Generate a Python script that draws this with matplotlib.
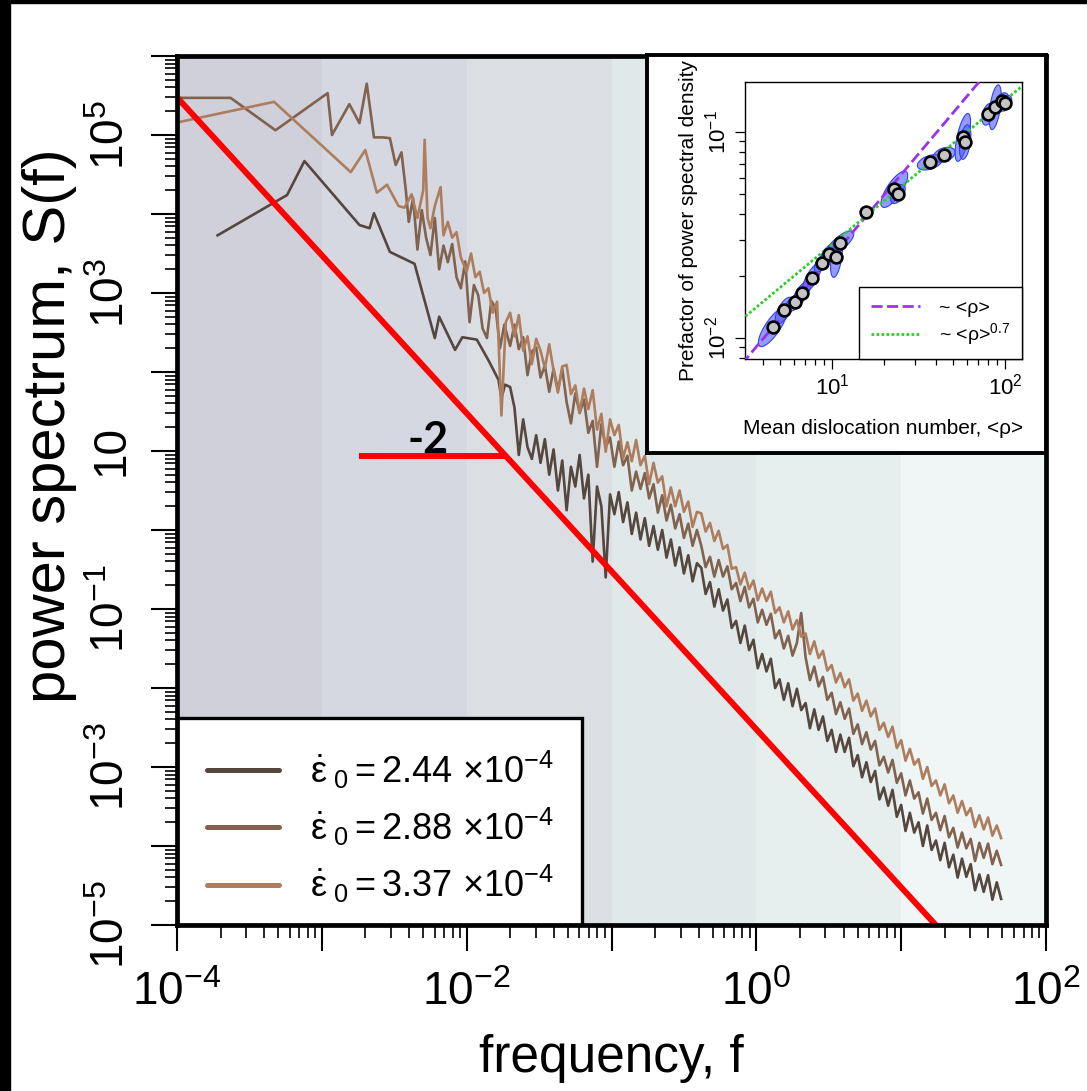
import numpy as np
import matplotlib
matplotlib.use("Agg")
import matplotlib.pyplot as plt
from matplotlib.ticker import FixedLocator, LogLocator, FuncFormatter, NullFormatter
from matplotlib.patches import Rectangle

plt.rcParams['font.family'] = ['Liberation Sans', 'DejaVu Sans']
plt.rcParams['mathtext.fontset'] = 'custom'
plt.rcParams['mathtext.rm'] = 'Liberation Sans'
plt.rcParams['mathtext.it'] = 'Liberation Sans'
plt.rcParams['mathtext.bf'] = 'Liberation Sans:bold'

# ---------------- spectra (log10 f, log10 S) ----------------
labels = [r'$\dot{\varepsilon}_{\ 0} = 2.44\ {\times}10^{-4}$',
          r'$\dot{\varepsilon}_{\ 0} = 2.88\ {\times}10^{-4}$',
          r'$\dot{\varepsilon}_{\ 0} = 3.37\ {\times}10^{-4}$']
colors = ['#55463e', '#80624e', '#ad7d5e']

# low-frequency part of each spectrum
dark_low_logf = [-3.72, -3.24, -3.12, -2.74, -2.67, -2.64, -2.53, -2.36, -2.22, -2.19,
                 -2.08, -2.03, -1.93, -1.85, -1.78, -1.76, -1.735]
dark_low_logS = [3.73, 4.24, 4.67, 3.86, 3.82, 4.01, 3.52, 3.37, 2.43, 2.70,
                 2.28, 2.44, 2.41, 2.15, 1.90, 1.67, 1.84]

mid_low_logf = [-4.02, -3.63, -3.32, -2.96, -2.93, -2.81, -2.74, -2.69, -2.64, -2.58,
                -2.53, -2.49, -2.45, -2.42, -2.40, -2.37, -2.34, -2.31, -2.28, -2.25,
                -2.22, -2.19, -2.16, -2.13, -2.10, -2.07, -2.04, -2.01, -1.98, -1.95,
                -1.92, -1.89, -1.86, -1.83, -1.80, -1.77, -1.74]
mid_low_logS = [5.47, 5.47, 5.06, 5.53, 5.00, 5.39, 5.15, 5.65, 4.97, 4.97,
                4.96, 4.62, 4.78, 4.30, 3.90, 4.20, 3.55, 4.05, 3.70, 3.48,
                3.95, 3.30, 3.60, 3.39, 3.62, 3.20, 3.06, 3.40, 2.63, 3.10,
                2.97, 2.55, 2.43, 2.90, 2.81, 2.30, 2.60]

light_low_logf = [-4.02, -3.33, -2.80, -2.70, -2.62, -2.55, -2.47, -2.43, -2.38, -2.34,
                  -2.30, -2.29, -2.27, -2.25, -2.22, -2.18, -2.16, -2.13, -2.10, -2.07,
                  -2.04, -2.00, -1.97, -1.94, -1.91, -1.88, -1.85, -1.82, -1.79, -1.76,
                  -1.73]
light_low_logS = [5.15, 5.42, 4.53, 4.81, 4.27, 4.37, 4.10, 4.08, 4.25, 3.95,
                  4.30, 4.94, 3.95, 3.82, 4.10, 4.34, 3.73, 3.90, 3.70, 3.77,
                  3.45, 3.27, 3.50, 3.20, 3.27, 3.00, 3.06, 2.75, 2.89, 1.45,
                  2.63]

# shared high-frequency grid
grid_logf = [-1.70, -1.67, -1.64, -1.61, -1.58, -1.55, -1.52, -1.49, -1.46, -1.43,
             -1.40, -1.37, -1.34, -1.31, -1.28, -1.25, -1.22, -1.19, -1.16, -1.13,
             -1.10, -1.07, -1.04, -1.01, -0.98, -0.95, -0.92, -0.89, -0.86, -0.83,
             -0.80, -0.77, -0.74, -0.71, -0.68, -0.65, -0.62, -0.59, -0.56, -0.53,
             -0.50, -0.47, -0.44, -0.41, -0.38, -0.35, -0.32, -0.29, -0.26, -0.23,
             -0.20, -0.17, -0.14, -0.11, -0.08, -0.05, -0.02, 0.01, 0.04, 0.07,
             0.10, 0.13, 0.16, 0.19, 0.22, 0.25, 0.28, 0.31, 0.34, 0.37,
             0.40, 0.43, 0.46, 0.49, 0.52, 0.55, 0.58, 0.61, 0.64, 0.67,
             0.70, 0.73, 0.76, 0.79, 0.82, 0.85, 0.88, 0.91, 0.94, 0.97,
             1.00, 1.03, 1.06, 1.09, 1.12, 1.15, 1.18, 1.21, 1.24, 1.27,
             1.30, 1.33, 1.36, 1.39, 1.42, 1.45, 1.48, 1.51, 1.54, 1.57,
             1.60, 1.63, 1.66, 1.69]

dark_logS = [1.81, 1.55, 0.95, 1.40, 1.05, 0.90, 1.20, 0.85, 1.15, 0.70,
             1.02, 0.50, 0.88, 0.25, 0.80, 0.55, 0.95, 0.40, 0.70, -0.40,
             0.55, 0.30, -0.60, 0.45, 0.20, 0.48, 0.10, 0.35, -0.05, 0.22,
             -0.12, 0.15, -0.20, 0.05, -0.25, 0.00, -0.35, -0.12, -0.45, -0.22,
             -0.55, -0.32, -0.65, -0.42, -0.48, -0.81, -0.66, -0.97, -0.75, -1.02,
             -0.88, -1.24, -1.15, -1.43, -1.21, -1.52, -1.39, -1.75, -1.57, -1.79,
             -1.63, -2.00, -1.89, -2.15, -1.94, -2.23, -2.01, -2.28, -2.19, -2.51,
             -2.27, -2.53, -2.36, -2.67, -2.53, -2.81, -2.59, -2.81, -2.63, -2.99,
             -2.85, -3.13, -2.94, -3.19, -3.05, -3.41, -3.26, -3.49, -3.29, -3.63,
             -3.48, -3.81, -3.58, -3.83, -3.70, -4.00, -3.74, -4.05, -3.93, -4.18,
             -3.96, -4.27, -4.11, -4.40, -4.16, -4.39, -4.23, -4.56, -4.36, -4.58,
             -4.37, -4.68, -4.46, -4.67]

mid_logS = [2.33, 2.60, 2.29, 2.44, 1.96, 2.26, 2.31, 1.93, 2.08, 1.75,
            2.04, 1.77, 2.04, 1.62, 1.35, 1.73, 1.48, 1.65, 1.23, 1.38,
            0.80, 1.34, 1.05, 1.17, 0.80, 1.12, 0.82, 0.94, 0.50, 0.74,
            0.52, 0.72, 0.40, 0.58, 0.22, 0.44, 0.12, 0.32, 0.02, 0.20,
            -0.10, 0.08, -0.20, 0.00, -0.20, -0.47, -0.34, -0.59, -0.38, -0.59,
            -0.46, -0.75, -0.67, -0.90, -0.72, -0.98, -0.87, -1.17, -1.01, -1.20,
            -1.06, -1.37, -1.27, -1.50, -1.34, -1.59, -1.43, -1.05, -1.61, -1.90,
            -1.73, -1.98, -1.86, -2.15, -2.06, -2.33, -2.18, -2.39, -2.26, -2.58,
            -2.46, -2.71, -2.56, -2.78, -2.67, -2.98, -2.87, -3.07, -2.91, -3.20,
            -3.08, -3.36, -3.17, -3.40, -3.32, -3.59, -3.40, -3.67, -3.58, -3.80,
            -3.62, -3.89, -3.77, -4.02, -3.83, -4.03, -3.91, -4.19, -3.96, -4.15,
            -3.97, -4.23, -4.06, -4.24]

light_logS = [2.75, 2.45, 2.72, 2.27, 2.45, 2.10, 2.42, 2.27, 2.05, 2.35,
              2.02, 1.74, 2.07, 2.09, 1.72, 1.83, 1.49, 1.79, 1.53, 1.77,
              1.27, 1.47, 0.99, 1.40, 1.20, 1.33, 0.91, 1.11, 0.87, 1.14,
              0.82, 0.94, 0.58, 0.85, 0.60, 0.68, 0.30, 0.54, 0.30, 0.50,
              0.23, 0.36, 0.04, 0.23, 0.21, -0.02, 0.09, -0.14, -0.01, -0.24,
              -0.19, -0.49, -0.47, -0.69, -0.54, -0.75, -0.64, -0.89, -0.74, -0.90,
              -0.78, -1.05, -0.98, -1.17, -1.03, -1.26, -1.14, -1.35, -1.31, -1.57,
              -1.41, -1.62, -1.53, -1.78, -1.71, -1.93, -1.81, -1.99, -1.89, -2.16,
              -2.07, -2.29, -2.16, -2.36, -2.26, -2.53, -2.44, -2.62, -2.49, -2.76,
              -2.66, -2.92, -2.77, -2.97, -2.90, -3.15, -3.00, -3.24, -3.17, -3.36,
              -3.22, -3.46, -3.36, -3.58, -3.43, -3.61, -3.52, -3.76, -3.61, -3.79,
              -3.64, -3.87, -3.74, -3.90]

# reference power law S ~ A f^-2 and the slope marker
ref_amp = 3.0e-3
ref_level = 8.7
ref_marker_f0 = 1.8e-3
slope_text_pos = (5.4e-3, 13.8)

# frequency decades shaded in the background
band_edges = [1e-4, 1e-3, 1e-2, 1e-1, 1e0, 1e1, 1e2]
band_colors = ['#cfd0da', '#d5d8e0', '#dbdfe3', '#e1e8e9', '#e6eeee', '#f0f6f6']

# ---------------- inset data ----------------
rho = [4.54, 5.28, 6.11, 6.68, 7.64, 8.72, 9.61, 10.6, 11.1, 15.7,
       22.9, 24.0, 36.8, 44.4, 56.9, 58.7, 79.4, 87.5, 95.7, 100.0]
prefactor = [0.0113, 0.0136, 0.0149, 0.0165, 0.0196, 0.0231, 0.0256, 0.0247, 0.0288, 0.0409,
             0.0527, 0.0500, 0.0713, 0.0776, 0.0942, 0.0894, 0.122, 0.132, 0.142, 0.138]
# error ellipses in decades: semi-major, semi-minor, angle (deg)
ell_a = [0.12, 0.075, 0.065, 0.075, 0.085, 0.055, 0.065, 0.10, 0.095, 0.03,
         0.11, 0.055, 0.075, 0.065, 0.12, 0.085, 0.055, 0.11, 0.045, 0.045]
ell_b = [0.04, 0.033, 0.03, 0.03, 0.03, 0.028, 0.033, 0.03, 0.033, 0.024,
         0.04, 0.03, 0.033, 0.033, 0.033, 0.03, 0.03, 0.03, 0.03, 0.03]
ell_ang = [50, 55, 35, 50, 55, 45, 45, 80, 35, 0,
           50, 50, 15, 15, 75, 80, 70, 80, 45, 45]
lin_amp = 0.00248     # ~ <rho>
pow_amp = 0.00569     # ~ <rho>^0.7
pow_exp = 0.7

# ---------------- figure ----------------
W, H = 1087, 1091
fig = plt.figure(figsize=(W / 100, H / 100), dpi=100)
fig.patch.set_facecolor('white')

ax = fig.add_axes([177 / W, 1 - 925 / H, 869 / W, 869 / H])
ax.set_xscale('log')
ax.set_yscale('log')
ax.set_xlim(1e-4, 1e2)
ax.set_ylim(1e-5, 1e6)

for lo, hi, c in zip(band_edges[:-1], band_edges[1:], band_colors):
    ax.axvspan(lo, hi, color=c, zorder=0, lw=0)

series = [(dark_low_logf, dark_low_logS, dark_logS),
          (mid_low_logf, mid_low_logS, mid_logS),
          (light_low_logf, light_low_logS, light_logS)]
for (lf, ls, hs), col, lab in zip(series, colors, labels):
    f = 10 ** np.array(lf + grid_logf)
    s = 10 ** np.array(ls + hs)
    ax.plot(f, s, color=col, lw=1.9, label=lab, zorder=2)

fr = np.array([1e-4, 1e2])
ax.plot(fr, ref_amp * fr ** -2.0, color='#ff0000', lw=4.3, zorder=3)
f_cross = np.sqrt(ref_amp / ref_level)
ax.plot([ref_marker_f0, f_cross], [ref_level, ref_level], color='#ff0000', lw=4.3,
        zorder=3, solid_capstyle='butt')
ax.text(slope_text_pos[0], slope_text_pos[1], '-2', fontsize=31, fontweight='bold',
        family='Lato', ha='center', va='center', zorder=4)

def xfmt(v, pos):
    e = int(round(np.log10(v)))
    return r'$10^{%d}$' % e if e % 2 == 0 else ''

def yfmt(v, pos):
    e = int(round(np.log10(v)))
    if e % 2 == 0:
        return ''
    return '10' if e == 1 else r'$10^{%d}$' % e

ax.xaxis.set_major_locator(FixedLocator([10.0 ** k for k in range(-4, 3)]))
ax.yaxis.set_major_locator(FixedLocator([10.0 ** k for k in range(-5, 7)]))
ax.xaxis.set_minor_locator(LogLocator(base=10, subs=np.arange(2, 10), numticks=100))
ax.yaxis.set_minor_locator(LogLocator(base=10, subs=np.arange(2, 10), numticks=100))
ax.xaxis.set_major_formatter(FuncFormatter(xfmt))
ax.yaxis.set_major_formatter(FuncFormatter(yfmt))
ax.xaxis.set_minor_formatter(NullFormatter())
ax.yaxis.set_minor_formatter(NullFormatter())
ax.tick_params(which='major', length=19, width=1.5, labelsize=33, direction='out')
ax.tick_params(which='minor', length=9, width=1.2, direction='out')
ax.tick_params(axis='x', which='major', pad=14)
ax.tick_params(axis='y', which='major', pad=12, labelrotation=90)
for lab in ax.get_yticklabels():
    lab.set_va('center')
for sp in ax.spines.values():
    sp.set_linewidth(3.4)
    sp.set_zorder(6)

ax.set_xlabel('frequency, f', fontsize=37, labelpad=14)
ax.set_ylabel('power spectrum, S(f)', fontsize=43)
ax.yaxis.set_label_coords(-0.115, 0.575)

# legend: white box plus frameless legend entries
ax.add_patch(Rectangle((0.0, 0.0), (582 - 177) / 869, (925 - 718) / 869,
                       transform=ax.transAxes, facecolor='white', edgecolor='black',
                       lw=2.4, zorder=5))
leg = ax.legend(loc='center left', bbox_to_anchor=((207 - 177) / 869, (925 - 827) / 869),
                borderaxespad=0, borderpad=0, frameon=False,
                fontsize=26, handlelength=2.0, handletextpad=0.85, labelspacing=0.42)
for h in leg.legend_handles:
    h.set_linewidth(3.6)
    h.set_solid_capstyle('round')
leg.set_zorder(6)

# black edges of the page
fig.add_artist(Rectangle((0, 0), 10 / W, 1, transform=fig.transFigure,
                         color='black', zorder=20))
fig.add_artist(Rectangle((0, 1 - 3 / H), 1, 3 / H, transform=fig.transFigure,
                         color='black', zorder=20))

# ---------------- inset ----------------
frame = fig.add_axes([647 / W, 1 - 453 / H, (1046 - 647) / W, (453 - 55) / H], zorder=5)
frame.set_xticks([])
frame.set_yticks([])
frame.set_facecolor('white')
for sp in frame.spines.values():
    sp.set_linewidth(2.8)

ins = fig.add_axes([745 / W, 1 - 359 / H, 277 / W, 277 / H], zorder=6)
ins.set_xscale('log')
ins.set_yscale('log')
ins.set_xlim(3.14, 125)
ins.set_ylim(0.0079, 0.175)

t = np.linspace(0, 2 * np.pi, 80)
for r, p, a, b, ang in zip(rho, prefactor, ell_a, ell_b, ell_ang):
    th = np.deg2rad(ang)
    lx = np.log10(r) + a * np.cos(th) * np.cos(t) - b * np.sin(th) * np.sin(t)
    ly = np.log10(p) + a * np.sin(th) * np.cos(t) + b * np.cos(th) * np.sin(t)
    ins.fill(10 ** lx, 10 ** ly, facecolor=(0.30, 0.35, 1.0, 0.6),
             edgecolor=(0.2, 0.25, 0.95), lw=0.8, zorder=2)

rl = np.array([3.0, 130.0])
ins.plot(rl, lin_amp * rl, color='#9a33f0', lw=2.0, ls=(0, (4, 1.6)), zorder=3,
         label='~ <ρ>')
ins.plot(rl, pow_amp * rl ** pow_exp, color='#2ecc2e', lw=2.0, ls=(0, (1, 0.8)), zorder=3,
         label=r'~ <ρ>$^{0.7}$')
ins.scatter(rho, prefactor, s=72, facecolor='#c4c4c4', edgecolor='black',
            linewidths=1.9, zorder=4)

ins.xaxis.set_major_locator(FixedLocator([10.0, 100.0]))
ins.yaxis.set_major_locator(FixedLocator([0.01, 0.1]))
ins.xaxis.set_minor_locator(LogLocator(base=10, subs=np.arange(2, 10), numticks=100))
ins.yaxis.set_minor_locator(LogLocator(base=10, subs=np.arange(2, 10), numticks=100))
ins.xaxis.set_major_formatter(FuncFormatter(lambda v, p: r'$10^{%d}$' % round(np.log10(v))))
ins.yaxis.set_major_formatter(FuncFormatter(lambda v, p: r'$10^{%d}$' % round(np.log10(v))))
ins.xaxis.set_minor_formatter(NullFormatter())
ins.yaxis.set_minor_formatter(NullFormatter())
ins.tick_params(which='major', length=7, width=0.9, labelsize=16)
ins.tick_params(which='minor', length=4, width=0.9)
ins.tick_params(axis='y', labelrotation=90)
for lab in ins.get_yticklabels():
    lab.set_va('center')
for sp in ins.spines.values():
    sp.set_linewidth(1.0)
ins.set_xlabel('Mean dislocation number, <ρ>', fontsize=15, labelpad=14)
ins.set_ylabel('Prefactor of power spectral density', fontsize=15, labelpad=5)
il = ins.legend(loc='lower right', bbox_to_anchor=(1.0, 0.0), borderaxespad=0,
                fontsize=14, handlelength=2.5, handletextpad=1.0, labelspacing=0.25,
                borderpad=0.6, fancybox=False, framealpha=1, edgecolor='black')
il.get_frame().set_linewidth(1.0)

fig.savefig('out.png', dpi=100)
